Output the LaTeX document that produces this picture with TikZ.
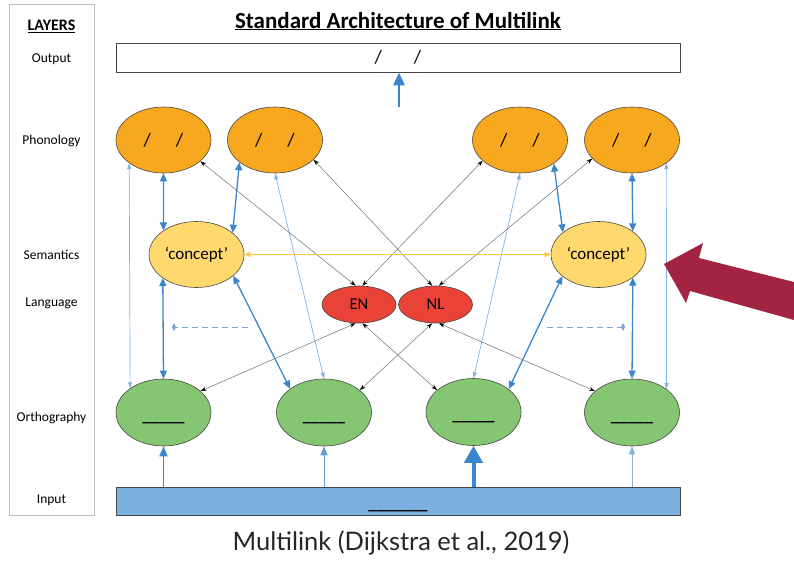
\documentclass[tikz,border=0pt]{standalone}
\usepackage{fontspec}
\setmainfont{Carlito}
\newfontfamily\capfont{Lato}
\usetikzlibrary{shapes.geometric,arrows.meta}

\definecolor{phon}{RGB}{247,168,30}
\definecolor{sem}{RGB}{255,217,110}
\definecolor{lang}{RGB}{233,66,54}
\definecolor{orth}{RGB}{132,198,114}
\definecolor{inblue}{RGB}{124,176,222}
\definecolor{edge}{RGB}{70,70,70}
\definecolor{barrow}{RGB}{58,134,206}
\definecolor{lblue}{RGB}{130,178,226}
\definecolor{dblue}{RGB}{125,165,212}
\definecolor{yline}{RGB}{255,200,60}
\definecolor{gline}{RGB}{110,110,110}
\definecolor{maroon}{RGB}{162,36,66}
\definecolor{framegray}{RGB}{190,190,190}

\tikzset{
  ell/.style={ellipse, draw=edge, line width=0.6pt, inner sep=0pt,
    minimum width=95pt, minimum height=66pt},
  orthell/.style={ell, fill=orth, minimum height=67pt,
    label={[font=\fontsize{17}{20}\selectfont\bfseries, yshift=-10pt]center:\_\_\_\_\_}},
  langell/.style={ellipse, draw=edge, line width=0.6pt, inner sep=0pt,
    minimum width=74pt, minimum height=37pt, fill=lang, font=\fontsize{16.5}{18}\selectfont},
  slashes/.style={font=\fontsize{19}{22}\selectfont},
  layer/.style={font=\fontsize{13.5}{16}\selectfont},
  bigdbl/.style={draw=barrow, line width=1.3pt,
    {Triangle[length=8pt,width=7pt]}-{Triangle[length=8pt,width=7pt]}},
  thindbl/.style={draw=lblue, line width=0.7pt,
    {Triangle[length=6pt,width=4pt]}-{Triangle[length=6pt,width=4pt]}},
  greydbl/.style={draw=gline, line width=0.5pt,
    {Stealth[black,length=6pt,width=4pt]}-{Stealth[black,length=6pt,width=4pt]}},
  dashlink/.style={draw=dblue, line width=1pt, dash pattern=on 6pt off 4pt,
    -{Diamond[length=4pt,width=8pt]}},
}

\begin{document}
\begin{tikzpicture}[x=1pt,y=-1pt]
\useasboundingbox (0,0) rectangle (794,560);

% layer column
\node[draw=framegray, line width=0.8pt, minimum width=85pt, minimum height=511pt,
  inner sep=0pt] (layers) at (51.5,259.5) {};
\node[font=\fontsize{16}{18}\selectfont\bfseries] (hLayers) at (51.5,26) {\underline{LAYERS}};
\node[layer] (lOut) at (51.5,59) {Output};
\node[layer] (lPhon) at (51.5,141) {Phonology};
\node[layer] (lSem) at (51.5,255) {Semantics};
\node[layer] (lLang) at (51.5,303) {Language};
\node[layer] (lOrth) at (51.5,418) {Orthography};
\node[layer] (lIn) at (51.5,500) {Input};

% title
\node[font=\fontsize{23}{27}\selectfont\bfseries] (title) at (398,21) {\underline{Standard Architecture of Multilink}};

% output and input bars
\node[draw=edge, line width=0.8pt, minimum width=564pt, minimum height=29pt, inner sep=0pt,
  slashes] (Out) at (398,57.5) {/\hspace{32pt}/};
\node[draw=edge, line width=0.8pt, fill=inblue, minimum width=564pt, minimum height=28pt,
  inner sep=0pt] (In) at (398,501) {};
\node[font=\fontsize{17}{20}\selectfont\bfseries] (inText) at (398,511) {\_\_\_\_\_\_\_};

% phonology
\node[ell, fill=phon, slashes] (P1) at (163.5,140) {/\hspace{25pt}/};
\node[ell, fill=phon, slashes] (P2) at (275,140) {/\hspace{25pt}/};
\node[ell, fill=phon, slashes] (P3) at (520,140) {/\hspace{25pt}/};
\node[ell, fill=phon, slashes] (P4) at (632,140) {/\hspace{25pt}/};

% semantics
\node[ell, fill=sem, font=\fontsize{17}{20}\selectfont] (S1) at (196.5,254.5) {‘concept’};
\node[ell, fill=sem, font=\fontsize{17}{20}\selectfont] (S2) at (598.5,254.5) {‘concept’};

% language nodes
\node[langell] (EN) at (359,304.5) {EN};
\node[langell] (NL) at (435.5,304.5) {NL};

% orthography
\node[orthell] (O1) at (163.5,412.5) {};
\node[orthell] (O2) at (324,412.5) {};
\node[orthell] (O3) at (473.5,412) {};
\node[orthell] (O4) at (632,412.5) {};

% phonology <-> semantics
\draw[bigdbl] (P1.south) -- (S1.144.3);
\draw[bigdbl] (P2.212.5) -- (S1.31.7);
\draw[bigdbl] (P3.-35.7) -- (S2.148.3);
\draw[bigdbl] (P4.south) -- (S2.34.9);

% semantics <-> orthography
\draw[bigdbl] (S1.215.7) -- (O1.north);
\draw[bigdbl] (S1.-30) -- (O2.145.5);
\draw[bigdbl] (S2.211.7) -- (O3.33.7);
\draw[bigdbl] (S2.-34.9) -- (O4.north);

% phonology <-> orthography
\draw[thindbl] (P1.214.9) -- (O1.144.7);
\draw[thindbl] (P2.south) -- (O2.north);
\draw[thindbl] (P3.south) -- (O3.north);
\draw[thindbl] (P4.-34.1) -- (O4.34.6);

% phonology <-> language
\draw[greydbl] (P1.-30) -- (EN.100);
\draw[greydbl] (P3.209.2) -- (EN.80);
\draw[greydbl] (P2.-27.5) -- (NL.100);
\draw[greydbl] (P4.205.7) -- (NL.80);

% language <-> orthography
\draw[greydbl] (EN.-100) -- (O1.30.4);
\draw[greydbl] (EN.-80) -- (O3.149.6);
\draw[greydbl] (NL.-100) -- (O2.32.9);
\draw[greydbl] (NL.-80) -- (O4.150.4);

% concept <-> concept
\draw[draw=yline, line width=0.5pt,
  {Triangle[length=6pt,width=5pt]}-{Triangle[length=6pt,width=5pt]}] (S1.east) -- (S2.west);

% language-control dashed links
\coordinate (dL1) at (248,327);
\coordinate (dL2) at (172,327);
\coordinate (dR1) at (547,327);
\coordinate (dR2) at (625,327);
\draw[dashlink] (dL1) -- (dL2);
\draw[dashlink] (dR1) -- (dR2);

% input -> orthography
\draw[draw=barrow, line width=1.8pt, -{Triangle[length=10pt,width=8pt]}] (O1.south |- In.north) -- (O1.south);
\draw[draw=barrow!80!white, line width=1pt, -{Triangle[length=9pt,width=7pt]}] (O2.south |- In.north) -- (O2.south);
\draw[draw=barrow, line width=4pt, -{Triangle[length=17pt,width=18pt]}] (O3.south |- In.north) -- (O3.south);
\draw[draw=lblue, line width=0.9pt, -{Triangle[length=8pt,width=6pt]}] (O4.south |- In.north) -- (O4.south);

% phonology -> output
\coordinate (outFoot) at (399,107);
\draw[draw=barrow, line width=2.8pt, -{Triangle[length=13pt,width=11pt]}] (outFoot) -- (outFoot |- Out.south);

% pointer arrow
\fill[maroon] (664,264) -- (703,243) -- (699,258) -- (794,282) -- (794,320)
  -- (690,291) -- (686,303) -- cycle;

% caption
\node[font=\capfont\fontsize{25.5}{30}\selectfont, text=black!85] (caption) at (401,543)
  {Multilink (Dijkstra et al., 2019)};
\end{tikzpicture}
\end{document}
